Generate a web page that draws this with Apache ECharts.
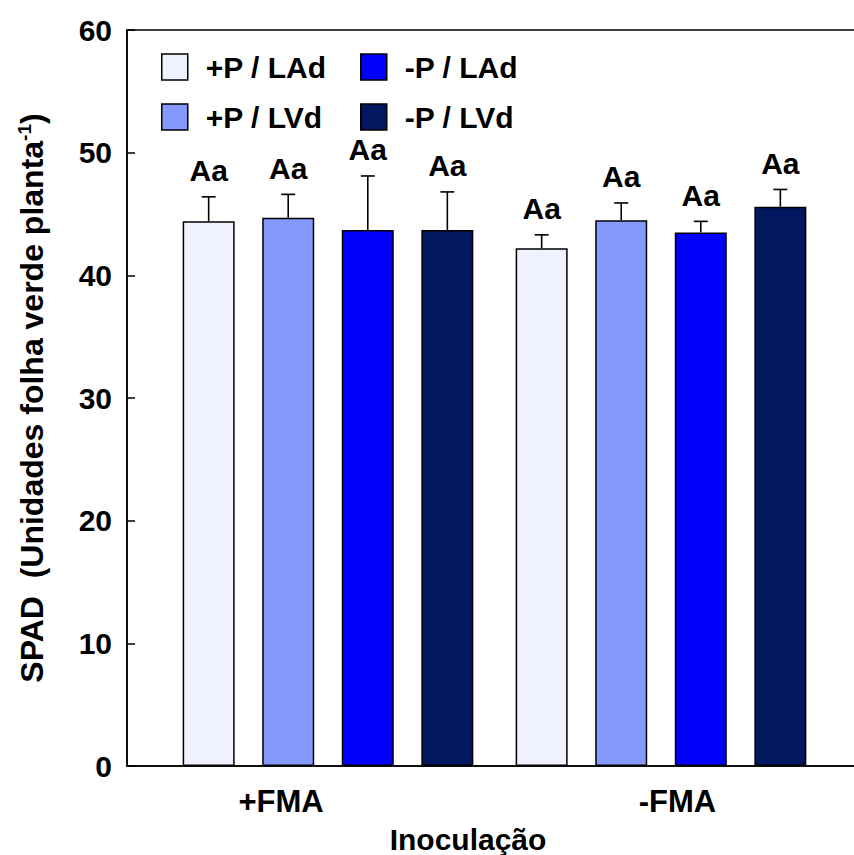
<!DOCTYPE html>
<html>
<head>
<meta charset="utf-8">
<script src="https://cdn.jsdelivr.net/npm/echarts@6/dist/echarts.min.js"></script>
<style>html,body{margin:0;padding:0;background:#fff;}#c{width:854px;height:855px;}</style>
</head>
<body>
<div id="c"></div>
<script>
// ---- data ----
const categories = ['+FMA', '-FMA'];
const treatments = ['+P / LAd', '+P / LVd', '-P / LAd', '-P / LVd'];
const legendCol1 = ['+P / LAd', '+P / LVd'];
const legendCol2 = ['-P / LAd', '-P / LVd'];
const meanPlusP_LAd = [44.4, 42.2];
const meanPlusP_LVd = [44.7, 44.5];
const meanMinusP_LAd = [43.7, 43.5];
const meanMinusP_LVd = [43.7, 45.6];
const errPlusP_LAd = [2.0, 1.1];
const errPlusP_LVd = [1.9, 1.4];
const errMinusP_LAd = [4.4, 0.9];
const errMinusP_LVd = [3.1, 1.4];
const lettersPlusP_LAd = ['Aa', 'Aa'];
const lettersPlusP_LVd = ['Aa', 'Aa'];
const lettersMinusP_LAd = ['Aa', 'Aa'];
const lettersMinusP_LVd = ['Aa', 'Aa'];
const yMin = 0, yMax = 60, yStep = 10;
const xTitle = 'Inoculação';
const yTitle = 'SPAD  (Unidades folha verde planta';

// ---- styling ----
const colors = ['#eff2fe', '#8599fd', '#0000ff', '#01175f'];
const FONT = 'Liberation Sans, Arial, sans-serif';
const BAR_W = 52;
const BAR_GAP = 0.53;

const means = [meanPlusP_LAd, meanPlusP_LVd, meanMinusP_LAd, meanMinusP_LVd];
const errs = [errPlusP_LAd, errPlusP_LVd, errMinusP_LAd, errMinusP_LVd];
const letters = [lettersPlusP_LAd, lettersPlusP_LVd, lettersMinusP_LAd, lettersMinusP_LVd];

const chart = echarts.init(document.getElementById('c'), null, {renderer: 'svg'});

const series = [];
treatments.forEach((name, si) => {
  series.push({
    name: name,
    type: 'bar',
    xAxisIndex: 1, yAxisIndex: 1,
    barWidth: BAR_W,
    barGap: (BAR_GAP * 100) + '%',
    itemStyle: {color: colors[si], borderColor: '#000', borderWidth: 1.5},
    data: means[si],
    z: 2
  });
});
treatments.forEach((name, si) => {
  series.push({
    name: 'err' + si,
    type: 'custom',
    xAxisIndex: 1, yAxisIndex: 1,
    z: 3,
    data: categories.map((c, ci) => [ci, means[si][ci], errs[si][ci]]),
    renderItem: function (params, api) {
      const ci = api.value(0), m = api.value(1), e = api.value(2);
      const off = (si - (treatments.length - 1) / 2) * BAR_W * (1 + BAR_GAP);
      const b = api.coord([ci, m]);
      const t = api.coord([ci, m + e]);
      const x = b[0] + off;
      const ls = {stroke: '#000', lineWidth: 1.6};
      return {
        type: 'group',
        children: [
          {type: 'line', shape: {x1: x, y1: b[1], x2: x, y2: t[1]}, style: ls},
          {type: 'line', shape: {x1: x - 7, y1: t[1], x2: x + 7, y2: t[1]}, style: ls},
          {type: 'text', style: {text: letters[si][ci], x: x, y: t[1] - 11, align: 'center', verticalAlign: 'bottom',
            font: 'bold 30px ' + FONT, fill: '#000'}}
        ]
      };
    }
  });
});

const legendCommon = {
  orient: 'vertical', icon: 'rect', itemWidth: 26, itemHeight: 26, itemGap: 20,
  selectedMode: false, top: 47,
  itemStyle: {borderColor: '#000', borderWidth: 1.5},
  textStyle: {fontSize: 30, fontWeight: 'bold', color: '#000', fontFamily: FONT, padding: [0, 0, 0, 13]}
};

chart.setOption({
  animation: false,
  backgroundColor: '#fff',
  grid: [
    {left: 127, right: -7, top: 30, bottom: 89, outerBoundsMode: 'none', containLabel: false,
      show: true, borderColor: '#000', borderWidth: 1.5, backgroundColor: 'transparent'},
    {left: 161.5, right: 26.5, top: 30, bottom: 89, outerBoundsMode: 'none', containLabel: false}
  ],
  legend: [
    Object.assign({}, legendCommon, {left: 156, data: legendCol1}),
    Object.assign({}, legendCommon, {left: 355, data: legendCol2})
  ],
  xAxis: [
    {
      type: 'category', gridIndex: 0, data: categories,
      axisLine: {lineStyle: {color: '#000', width: 1.5}},
      axisTick: {inside: true, length: 12, lineStyle: {color: '#000', width: 1.5}},
      axisLabel: {
        margin: 20, color: '#000', fontSize: 31, fontWeight: 'bold', fontFamily: FONT,
        formatter: function (v, i) { return i === 0 ? '{a|' + v + '}' : '{b|' + v + '}'; },
        rich: {
          a: {fontSize: 31, fontWeight: 'bold', fontFamily: FONT, color: '#000', padding: [0, 59, 0, 0]},
          b: {fontSize: 31, fontWeight: 'bold', fontFamily: FONT, color: '#000'}
        }
      },
      name: xTitle, nameLocation: 'middle', nameGap: 58,
      nameTextStyle: {fontSize: 30, lineHeight: 30, fontWeight: 'bold', color: '#000', fontFamily: FONT, padding: [0, 52, 0, 0]}
    },
    {type: 'category', gridIndex: 1, data: categories, show: false}
  ],
  yAxis: [
    {
      type: 'value', gridIndex: 0, min: yMin, max: yMax, interval: yStep,
      splitLine: {show: false},
      axisLine: {show: true, lineStyle: {color: '#000', width: 1.5}},
      axisTick: {show: true, inside: true, length: 8, lineStyle: {color: '#000', width: 1.5}},
      axisLabel: {margin: 15, color: '#000', fontSize: 30, fontWeight: 'bold', fontFamily: FONT},
      name: yTitle + '{sup|-1})', nameLocation: 'middle', nameGap: 79,
      nameTextStyle: {
        fontSize: 32, fontWeight: 'bold', color: '#000', fontFamily: FONT,
        rich: {sup: {fontSize: 19, fontWeight: 'bold', color: '#000', fontFamily: FONT, verticalAlign: 'top', padding: [0, 0, 14, 0]}}
      }
    },
    {type: 'value', gridIndex: 1, min: yMin, max: yMax, interval: yStep, show: false}
  ],
  series: series
});
</script>
</body>
</html>
